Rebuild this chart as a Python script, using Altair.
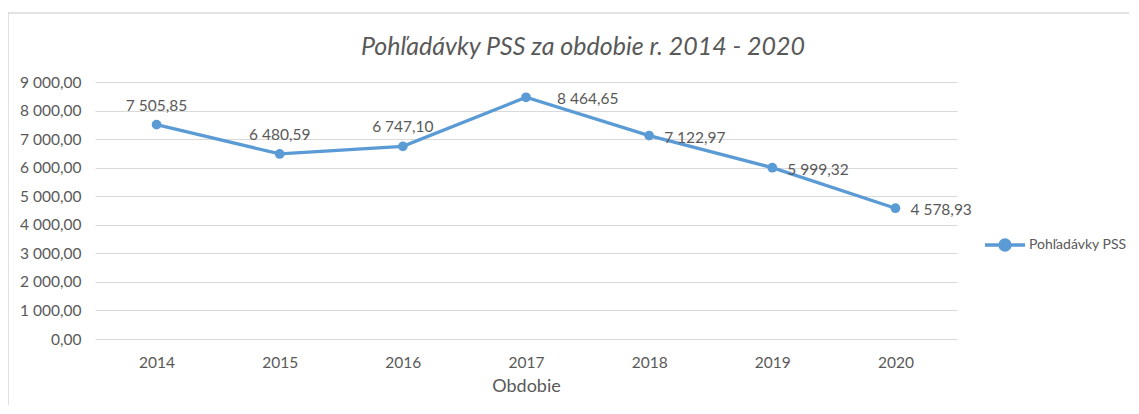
import altair as alt
import pandas as pd

years = ["2014", "2015", "2016", "2017", "2018", "2019", "2020"]
values = [7505.85, 6480.59, 6747.10, 8464.65, 7122.97, 5999.32, 4578.93]
series_name = "Pohľadávky PSS"
y_ticks = [0, 1000, 2000, 3000, 4000, 5000, 6000, 7000, 8000, 9000]

df = pd.DataFrame({"year": years, "value": values, "series": [series_name] * len(years)})

BLUE = "#5B9BD5"
GRAY = "#595959"
GRID = "#d9d9d9"
FONT = "Lato"
FS = 15.5

x_enc = alt.X("year:O", title="Obdobie",
              scale=alt.Scale(type="point", padding=0.5),
              axis=alt.Axis(labelAngle=0, grid=False, domain=False, ticks=False,
                            labelPadding=16, labelFontSize=FS, labelColor=GRAY,
                            titleFontSize=18, titleColor=GRAY, titleFontWeight="normal",
                            titlePadding=7, labelFont=FONT, titleFont=FONT))
y_enc = alt.Y("value:Q", title=None,
              scale=alt.Scale(domain=[0, 9000], nice=False),
              axis=alt.Axis(values=y_ticks, format=",.2f", domain=False, ticks=False,
                            labelPadding=14, labelFontSize=FS, labelColor=GRAY,
                            gridColor=GRID, labelFont=FONT))

base = alt.Chart(df)

legend_path = "M-1,0L1,0M-0.25,0A0.25,0.25,0,1,0,0.25,0A0.25,0.25,0,1,0,-0.25,0Z"

line = base.mark_line(strokeWidth=3.3).encode(
    x=x_enc, y=y_enc,
    color=alt.Color("series:N", scale=alt.Scale(range=[BLUE]),
                    legend=alt.Legend(title=None, orient="none", legendX=888, legendY=141,
                                      symbolType=legend_path, symbolSize=1600,
                                      symbolStrokeWidth=3.3, symbolFillColor=BLUE,
                                      symbolStrokeColor=BLUE, labelFontSize=14,
                                      labelColor=GRAY, labelFont=FONT, padding=0,
                                      labelOffset=2)),
)
points = base.mark_point(filled=True, size=95, opacity=1).encode(
    x=x_enc, y=y_enc, color=alt.Color("series:N", scale=alt.Scale(range=[BLUE]))
)

text_props = dict(fontSize=FS, color=GRAY, font=FONT, baseline="middle")
labels_above = base.transform_filter(
    "datum.year <= '2016'"
).mark_text(align="center", dy=-19, **text_props).encode(
    x=x_enc, y=y_enc, text=alt.Text("value:Q", format=",.2f")
)
labels_2017 = base.transform_filter(
    "datum.year == '2017'"
).mark_text(align="left", dx=31, dy=2, **text_props).encode(
    x=x_enc, y=y_enc, text=alt.Text("value:Q", format=",.2f")
)
labels_right = base.transform_filter(
    "datum.year > '2017'"
).mark_text(align="left", dx=15, dy=2, **text_props).encode(
    x=x_enc, y=y_enc, text=alt.Text("value:Q", format=",.2f")
)

frame_df = pd.DataFrame({"k": [0]})
frame_top = alt.Chart(frame_df).mark_rule(color=GRID, strokeWidth=1.5).encode(
    x=alt.value(-87), x2=alt.value(1034), y=alt.value(-69)
)
frame_left = alt.Chart(frame_df).mark_rule(color=GRID, strokeWidth=1.5).encode(
    x=alt.value(-87), y=alt.value(-69), y2=alt.value(330)
)

chart = alt.layer(
    frame_top, frame_left, line, points, labels_above, labels_2017, labels_right
).properties(
    width=862, height=257,
    title=alt.Title("Pohľadávky PSS za obdobie r. 2014 - 2020", fontSize=25,
                    fontStyle="italic", fontWeight="normal", color=GRAY, font=FONT,
                    anchor="middle", dx=57, offset=-48),
    autosize=alt.AutoSizeParams(type="none"),
    padding={"left": 87, "top": 74, "right": 172, "bottom": 66},
).configure_view(stroke=None)

chart.save("out.html", embed_options={
    "renderer": "svg", "actions": False,
    "formatLocale": {"decimal": ",", "thousands": " ", "grouping": [3], "currency": ["", " €"]},
})
